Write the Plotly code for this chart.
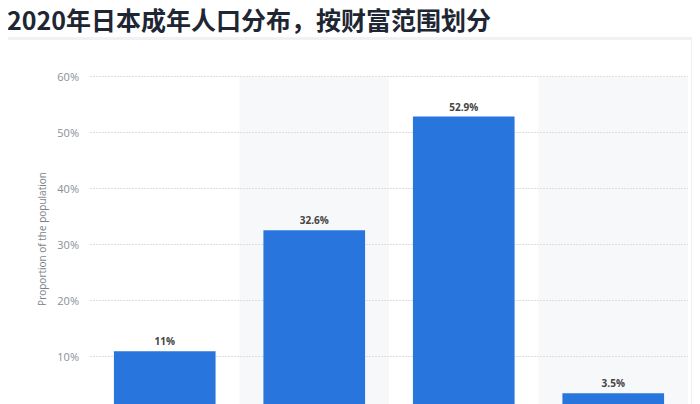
import plotly.graph_objects as go

# data
categories = ['Under $10,000', '$10,000 - $100,000', '$100,000 - $1 million', 'Over $1 million']
shares = [11, 32.6, 52.9, 3.5]
share_labels = ['11%', '32.6%', '52.9%', '3.5%']
y_ticks = [10, 20, 30, 40, 50, 60]
y_tick_labels = ['10%', '20%', '30%', '40%', '50%', '60%']

title_text = '2020年日本成年人口分布，按财富范围划分'
y_title = 'Proportion of the population'

W, H = 700, 404
# the page body has an 8px margin, so figure pixels = screen pixels - 8
ML, MR, MT, MB = 82, 20, 66, 8
pw, ph = W - ML - MR, H - MT - MB


def px_x(p):
    # figure pixel -> paper x
    return (p - ML) / pw


def px_y(p):
    # figure pixel -> paper y
    return (H - MB - p) / ph


fig = go.Figure()

fig.add_trace(go.Bar(
    x=categories,
    y=shares,
    text=share_labels,
    textposition='outside',
    cliponaxis=False,
    textfont=dict(family='Open Sans', size=10, color='#444444', weight='bold'),
    marker=dict(color='#2876dd', line=dict(width=0)),
    hoverinfo='skip',
))

shapes = []
# card shadow + card
shapes.append(dict(type='rect', xref='paper', yref='paper', layer='below',
                   x0=px_x(-4), x1=px_x(686), y0=px_y(420), y1=px_y(29),
                   fillcolor='#f0f1f4', line=dict(width=0)))
shapes.append(dict(type='rect', xref='paper', yref='paper', layer='below',
                   x0=px_x(-1), x1=px_x(683), y0=px_y(420), y1=px_y(32),
                   fillcolor='#ffffff', line=dict(width=0)))
# alternating column bands
for i in (1, 3):
    shapes.append(dict(type='rect', xref='x', yref='y', layer='below',
                       x0=i - 0.5, x1=i + 0.5, y0=0, y1=60,
                       fillcolor='#f7f8fa', line=dict(width=0)))

fig.update_layout(
    width=W,
    height=H,
    margin=dict(l=ML, r=MR, t=MT, b=MB),
    paper_bgcolor='#ffffff',
    plot_bgcolor='rgba(0,0,0,0)',
    bargap=0.32,
    showlegend=False,
    shapes=shapes,
    font=dict(family='Open Sans'),
    annotations=[dict(
        text=f'<b>{title_text}</b>',
        xref='paper', yref='paper',
        x=px_x(-3), y=px_y(-9),
        xanchor='left', yanchor='top',
        showarrow=False,
        font=dict(family='Noto Sans CJK SC', size=25, color='#1e2633'),
    )],
)

fig.update_xaxes(
    showticklabels=False,
    showgrid=False,
    zeroline=False,
    showline=False,
    automargin=False,
)

fig.update_yaxes(
    range=[1.6, 60.5],
    tickvals=y_ticks,
    ticktext=y_tick_labels,
    tickfont=dict(family='Open Sans', size=11, color='#8a8f99'),
    ticklabelstandoff=10,
    showgrid=True,
    gridcolor='#dcdee2',
    griddash='2px,1px',
    gridwidth=1,
    zeroline=False,
    showline=False,
    automargin=False,
    title=dict(text=y_title, standoff=8,
               font=dict(family='Open Sans', size=10, color='#7a7f88')),
)

fig.write_html("out.html")
